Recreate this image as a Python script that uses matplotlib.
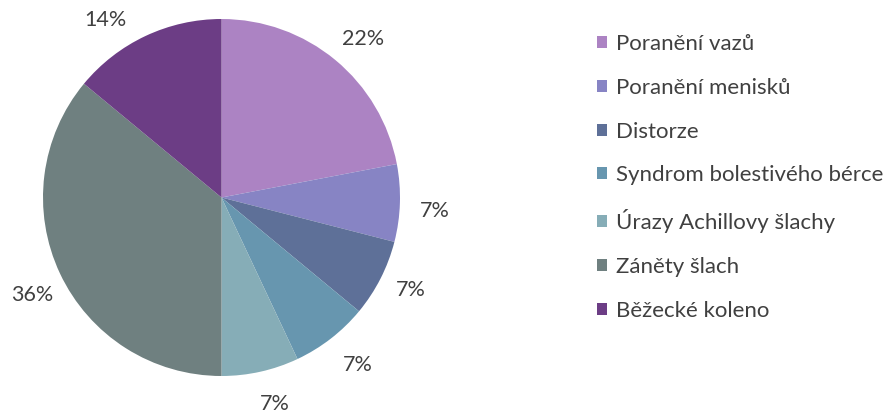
import numpy as np
import matplotlib.pyplot as plt
from matplotlib.patches import Patch

labels = ["Poranění vazů", "Poranění menisků", "Distorze", "Syndrom bolestivého bérce",
          "Úrazy Achillovy šlachy", "Záněty šlach", "Běžecké koleno"]
values = [22, 7, 7, 7, 7, 36, 14]
colors = ["#AC83C3", "#8784C4", "#5E7098", "#6796AF", "#86ADB7", "#6F8080", "#6C3D85"]

plt.rcParams['font.family'] = ['Lato', 'DejaVu Sans']
text_color = "#404040"

W, H = 894, 417
fig = plt.figure(figsize=(W / 100, H / 100), dpi=100)

# pie centre and radius in pixels
cx, cy, r = 221.5, 197.5, 178.5
half = 1.25 * r
ax = fig.add_axes([(cx - half) / W, (H - cy - half) / H, 2 * half / W, 2 * half / H])

wedges, texts, autotexts = ax.pie(values, colors=colors, startangle=90, counterclock=False,
                                  autopct=lambda p: "%d%%" % round(p), pctdistance=1.19,
                                  wedgeprops=dict(linewidth=0))

# label placement like the original ("best fit": angle in degrees, distance in radii)
label_angles = [48.2, -3.6, -26.2, -50.7, -75.6, -152.8, 123.2]
label_dist = [1.19, 1.195, 1.18, 1.21, 1.195, 1.19, 1.19]
for t, a, d in zip(autotexts, label_angles, label_dist):
    t.set_color(text_color)
    t.set_fontsize(15.5)
    t.set_position((d * np.cos(np.deg2rad(a)), d * np.sin(np.deg2rad(a))))

ax.set_xlim(-1.25, 1.25)
ax.set_ylim(-1.25, 1.25)

handles = [Patch(facecolor=c, edgecolor='none') for c in colors]
leg = fig.legend(handles, labels, loc='upper left', bbox_to_anchor=(597 / W, 1 - 34 / H),
                 frameon=False, fontsize=16, handlelength=0.45, handleheight=0.45,
                 handletextpad=0.4, labelspacing=1.07, borderpad=0, borderaxespad=0)
for t in leg.get_texts():
    t.set_color(text_color)

fig.savefig("out.png", dpi=100)
